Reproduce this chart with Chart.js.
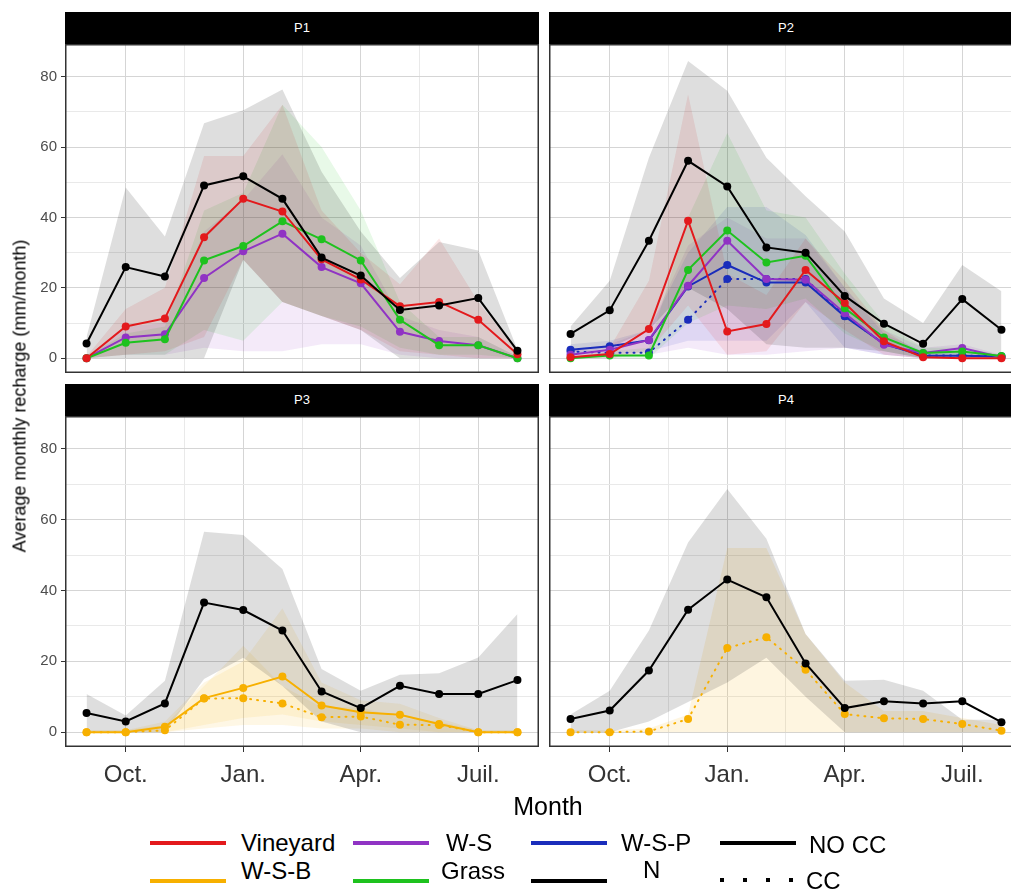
<!DOCTYPE html>
<html>
<head>
<meta charset="utf-8">
<script src="https://cdn.jsdelivr.net/npm/chart.js@4.4.1/dist/chart.umd.min.js"></script>
<style>
html,body{margin:0;padding:0;background:#fff;}
body{width:1011px;height:890px;overflow:hidden;position:relative;font-family:"Liberation Sans",Arial,sans-serif;}
canvas{position:absolute;}
.strip{position:absolute;background:#000;color:#fff;font-size:13px;text-align:center;height:32px;line-height:32px;width:474px;}
.lab{position:absolute;white-space:nowrap;color:#000;}
.key{position:absolute;height:4px;width:76px;}
</style>
</head>
<body>
<canvas id="c1" width="539" height="329" style="left:0;top:44px"></canvas>
<canvas id="c2" width="474" height="329" style="left:549px;top:44px"></canvas>
<canvas id="c3" width="539" height="376" style="left:0;top:416px"></canvas>
<canvas id="c4" width="474" height="376" style="left:549px;top:416px"></canvas>
<div id="overlay"></div>
<script>
// ---------- axis / category data ----------
const panelNames = ['P1', 'P2', 'P3', 'P4'];
const months = ['Sept.', 'Oct.', 'Nov.', 'Déc.', 'Jan.', 'Févr.', 'Mars', 'Apr.', 'Mai', 'Juin', 'Juil.', 'Août'];
const xMajorTicks = [1, 4, 7, 10];
const xMajorLabels = ['Oct.', 'Jan.', 'Apr.', 'Juil.'];
const xMinorTicks = [2.5, 5.5, 8.5];
const yMajorTicks = [0, 20, 40, 60, 80];
const yMinorTicks = [10, 30, 50, 70];
const yTitle = 'Average monthly recharge (mm/month)';
const xTitle = 'Month';

// ---------- series values (mm/month), Sept. -> Août ----------
// P1
const p1_N        = [4.2, 25.9, 23.2, 49.1, 51.7, 45.3, 28.6, 23.5, 13.7, 15.0, 17.1, 2.1];
const p1_N_lo     = [0, 0, 0, 0, 28, 16, 12, 8, 0, 0, 0, 0];
const p1_N_hi     = [6, 48.5, 34.6, 66.8, 70.5, 76.4, 53, 36, 22.8, 33, 30.6, 2.4];
const p1_Vin      = [0, 9.0, 11.3, 34.4, 45.3, 41.7, 28.1, 22.4, 14.8, 16.0, 10.9, 1.1];
const p1_Vin_lo   = [0, 1, 2, 6, 28, 16, 12, 8, 2, 1, 0, 0];
const p1_Vin_hi   = [0.5, 14, 20, 57.5, 57.5, 72, 42, 30, 21, 34, 16, 2];
const p1_Grass    = [0, 4.4, 5.4, 27.8, 31.9, 38.9, 33.8, 27.8, 10.9, 3.7, 3.7, 0];
const p1_Grass_lo = [0, 1, 1, 8, 5, 16, 12, 9, 3, 1, 1, 0];
const p1_Grass_hi = [0.5, 7, 9, 42, 47, 72, 60, 42, 16, 6, 6, 0.5];
const p1_WS       = [0, 5.9, 6.8, 22.8, 30.4, 35.4, 25.9, 21.3, 7.5, 4.9, 3.7, 0];
const p1_WS_lo    = [0, 1, 1, 3, 2, 2, 4, 4, 1, 0, 0, 0];
const p1_WS_hi    = [0.5, 9, 10, 36, 45, 58, 40, 32, 12, 8, 6, 0.5];
// P2
const p2_N        = [6.9, 13.6, 33.4, 56.1, 48.8, 31.5, 30.0, 17.7, 9.8, 4.1, 16.8, 8.1];
const p2_N_lo     = [1, 3, 8, 20, 14, 4, 3, 3, 2, 0, 1, 0];
const p2_N_hi     = [9, 22, 57, 84.5, 76, 57, 46, 36, 17, 10, 26.5, 19];
const p2_Vin      = [0.3, 1.2, 8.3, 39.1, 7.6, 9.7, 25.1, 15.7, 4.8, 0.3, 0, 0];
const p2_Vin_lo   = [0, 0, 2, 15, 1, 2, 16, 8, 1, 0, 0, 0];
const p2_Vin_hi   = [1, 3, 22, 75, 24, 18, 34, 22, 8, 1, 0.5, 0.5];
const p2_Grass    = [0, 0.8, 0.8, 25.1, 36.3, 27.2, 29.1, 14.2, 5.9, 1.5, 1.9, 0.6];
const p2_Grass_lo = [0, 0, 0, 10, 15, 14, 17, 7, 2, 0, 0, 0];
const p2_Grass_hi = [0.5, 2, 3, 40, 64, 42, 40, 24, 10, 3, 3, 1];
const p2_WS       = [1.0, 2.4, 5.2, 20.6, 33.4, 22.5, 22.3, 12.8, 3.8, 1.5, 2.9, 0.3];
const p2_WS_lo    = [0, 0, 1, 3, 1, 1, 2, 3, 1, 0, 0, 0];
const p2_WS_hi    = [2, 4, 8, 32, 40, 34, 34, 20, 8, 3, 4, 1];
const p2_WSP      = [2.4, 3.4, 5.1, 20.4, 26.5, 21.5, 21.5, 11.9, 4.1, 0.7, 0.7, 0.5];
const p2_WSP_lo   = [1, 1, 2, 5, 5, 5, 16, 3, 1, 0, 0, 0];
const p2_WSP_hi   = [4, 5, 8, 30, 43, 43, 35, 20, 7, 2, 2, 1];
const p2_WSP_CC   = [1.9, 1.5, 1.6, 10.9, 22.5, 22.5, 22.5, 12.0, 4.1, 0.8, 0.8, 0.5];
// P3
const p3_N        = [5.4, 3.0, 8.1, 36.6, 34.5, 28.7, 11.5, 6.8, 13.1, 10.8, 10.8, 14.7];
const p3_N_lo     = [0, 0, 0, 15, 21, 13, 3, 0, 0, 0, 0, 0];
const p3_N_hi     = [10.8, 4.7, 14.5, 56.6, 55.7, 46.1, 17.8, 11.7, 16.2, 16.6, 21.1, 33.4];
const p3_WSB      = [0, 0, 1.5, 9.6, 12.5, 15.7, 7.5, 5.6, 4.9, 2.3, 0, 0];
const p3_WSB_lo   = [0, 0, 0, 2, 4, 5, 3, 2, 1, 0, 0, 0];
const p3_WSB_hi   = [0.5, 0.5, 3, 14, 20, 35, 14, 9, 8, 4, 0.5, 0.5];
const p3_WSB_CC   = [0, 0, 0.5, 9.5, 9.6, 8.1, 4.2, 4.4, 2.1, 2.0, 0, 0];
const p3_WSB_CC_lo = [0, 0, 0, 1, 2, 2, 1, 1, 0, 0, 0, 0];
const p3_WSB_CC_hi = [0.5, 0.5, 2, 13, 24.4, 13, 7, 7, 4, 3, 0.5, 0.5];
// P4
const p4_N        = [3.7, 6.1, 17.4, 34.6, 43.1, 38.1, 19.4, 6.8, 8.7, 8.1, 8.7, 2.8];
const p4_N_lo     = [0, 0, 3, 8.5, 14, 21, 10, 0, 0, 0, 0, 0];
const p4_N_hi     = [5, 11.7, 28.7, 53.6, 68.7, 54.6, 27.7, 14.5, 14.8, 11.7, 3.5, 3.5];
const p4_WSB_CC   = [0, 0, 0.2, 3.7, 23.8, 26.8, 17.6, 5.1, 3.9, 3.7, 2.3, 0.4];
const p4_WSB_CC_lo = [0, 0, 0, 0, 0, 0, 0, 0, 0, 0, 0, 0];
const p4_WSB_CC_hi = [0.5, 0.5, 1, 5, 52, 52, 27.7, 14, 6, 6, 4, 2];

// ---------- legend ----------
const colourNames  = ['Vineyard', 'W-S-B', 'W-S', 'Grass', 'W-S-P', 'N'];
const colourValues = ['#e3191c', '#f7b000', '#9033c4', '#1ec21e', '#1a2dbb', '#000000'];
const linetypeNames = ['NO CC', 'CC'];
const COL = {};
colourNames.forEach((n, i) => COL[n] = colourValues[i]);

// ---------- styling ----------
const FONT = "'Liberation Sans', Arial, sans-serif";
Chart.defaults.font.family = FONT;
const X_MIN = -0.55, X_MAX = 11.55, Y_MIN = -4.2, Y_MAX = 89.3;
const MAJOR_GRID = '#d5d5d5', MINOR_GRID = '#e9e9e9';

function rgba(hex, a) {
  const v = parseInt(hex.slice(1), 16);
  return `rgba(${(v >> 16) & 255},${(v >> 8) & 255},${v & 255},${a})`;
}
function pts(vals) { return vals.map((v, i) => ({ x: i, y: v })); }
function series(vals, color, dotted) {
  return {
    data: pts(vals), borderColor: color, backgroundColor: color,
    borderWidth: 2, borderDash: dotted ? [1, 6] : [], borderCapStyle: dotted ? 'round' : 'butt',
    pointRadius: 4, pointHoverRadius: 4, pointBorderWidth: 0, pointBackgroundColor: color,
    fill: false, order: 0, tension: 0
  };
}
function band(lo, hi, color, a) {
  return [
    { data: pts(lo), borderWidth: 0, borderColor: 'rgba(0,0,0,0)', pointRadius: 0, fill: false, order: 1 },
    { data: pts(hi), borderWidth: 0, borderColor: 'rgba(0,0,0,0)', pointRadius: 0, fill: '-1',
      backgroundColor: rgba(color, a), order: 1 }
  ];
}

const panelBorder = {
  id: 'panelBorder',
  afterDraw(chart) {
    const { ctx, chartArea: a } = chart;
    ctx.save();
    ctx.strokeStyle = '#333';
    ctx.lineWidth = 1.5;
    ctx.strokeRect(a.left + 0.75, a.top + 0.75, a.right - a.left - 1.5, a.bottom - a.top - 1.5);
    ctx.restore();
  }
};

function zeroPad(s) { s.paddingTop = 0; s.paddingBottom = 0; s.paddingLeft = 0; s.paddingRight = 0; }

function makeChart(id, datasets, showY, showX) {
  const xTicks = xMajorTicks.concat(xMinorTicks).sort((a, b) => a - b);
  const yTicks = yMajorTicks.concat(yMinorTicks).sort((a, b) => a - b);
  const isMX = v => xMajorTicks.includes(v);
  const isMY = v => yMajorTicks.includes(v);
  return new Chart(document.getElementById(id), {
    type: 'line',
    data: { datasets },
    options: {
      responsive: false, animation: false, events: [],
      layout: { padding: 0, autoPadding: false },
      plugins: { legend: { display: false }, tooltip: { enabled: false },
                 filler: { propagate: false, drawTime: 'beforeDatasetsDraw' } },
      scales: {
        x: {
          type: 'linear', min: X_MIN, max: X_MAX,
          afterBuildTicks(s) { s.ticks = xTicks.map(v => ({ value: v })); },
          afterFit(s) { s.height = showX ? 45 : 0; zeroPad(s); },
          ticks: { display: showX, autoSkip: false, maxRotation: 0, minRotation: 0, color: '#333',
                   font: { size: 24, family: FONT }, padding: 9,
                   callback(v) { const i = xMajorTicks.indexOf(v); return i < 0 ? '' : xMajorLabels[i]; } },
          grid: { color: c => (c.tick && isMX(c.tick.value)) ? MAJOR_GRID : MINOR_GRID, lineWidth: 1,
                  drawTicks: showX, tickLength: 5,
                  tickColor: c => (c.tick && isMX(c.tick.value)) ? '#333' : 'rgba(0,0,0,0)' },
          border: { display: false }
        },
        y: {
          type: 'linear', min: Y_MIN, max: Y_MAX,
          afterBuildTicks(s) { s.ticks = yTicks.map(v => ({ value: v })); },
          afterFit(s) { s.width = showY ? 65 : 0; zeroPad(s); },
          ticks: { display: showY, autoSkip: false, color: '#4d4d4d', font: { size: 15, family: FONT }, padding: 4,
                   callback(v) { return isMY(v) ? String(v) : ''; } },
          grid: { color: c => (c.tick && isMY(c.tick.value)) ? MAJOR_GRID : MINOR_GRID, lineWidth: 1,
                  drawTicks: showY, tickLength: 4,
                  tickColor: c => (c.tick && isMY(c.tick.value)) ? '#333' : 'rgba(0,0,0,0)' },
          border: { display: false }
        }
      }
    },
    plugins: [panelBorder]
  });
}

const GA = 0.13, CA = 0.1;
makeChart('c1', [
  series(p1_N, COL['N']), series(p1_Vin, COL['Vineyard']), series(p1_Grass, COL['Grass']), series(p1_WS, COL['W-S']),
  ...band(p1_N_lo, p1_N_hi, '#000000', GA), ...band(p1_Vin_lo, p1_Vin_hi, COL['Vineyard'], CA),
  ...band(p1_Grass_lo, p1_Grass_hi, COL['Grass'], CA), ...band(p1_WS_lo, p1_WS_hi, COL['W-S'], CA)
], true, false);

makeChart('c2', [
  series(p2_N, COL['N']), series(p2_Vin, COL['Vineyard']), series(p2_Grass, COL['Grass']), series(p2_WS, COL['W-S']),
  series(p2_WSP, COL['W-S-P']), series(p2_WSP_CC, COL['W-S-P'], true),
  ...band(p2_N_lo, p2_N_hi, '#000000', GA), ...band(p2_Vin_lo, p2_Vin_hi, COL['Vineyard'], CA),
  ...band(p2_Grass_lo, p2_Grass_hi, COL['Grass'], CA), ...band(p2_WS_lo, p2_WS_hi, COL['W-S'], CA),
  ...band(p2_WSP_lo, p2_WSP_hi, COL['W-S-P'], CA)
], false, false);

makeChart('c3', [
  series(p3_N, COL['N']), series(p3_WSB, COL['W-S-B']), series(p3_WSB_CC, COL['W-S-B'], true),
  ...band(p3_N_lo, p3_N_hi, '#000000', GA), ...band(p3_WSB_lo, p3_WSB_hi, COL['W-S-B'], CA),
  ...band(p3_WSB_CC_lo, p3_WSB_CC_hi, COL['W-S-B'], CA)
], true, true);

makeChart('c4', [
  series(p4_N, COL['N']), series(p4_WSB_CC, COL['W-S-B'], true),
  ...band(p4_N_lo, p4_N_hi, '#000000', GA), ...band(p4_WSB_CC_lo, p4_WSB_CC_hi, COL['W-S-B'], 0.12)
], false, true);

// ---------- HTML text: strips, titles, legend ----------
const ov = document.getElementById('overlay');
function add(html, style, cls) {
  const d = document.createElement('div');
  d.className = cls || 'lab';
  d.setAttribute('style', style);
  d.innerHTML = html;
  ov.appendChild(d);
  return d;
}
const stripPos = [[65, 12], [549, 12], [65, 384], [549, 384]];
panelNames.forEach((p, i) => add(p, `left:${stripPos[i][0]}px;top:${stripPos[i][1]}px`, 'strip'));
add(yTitle, 'left:20px;top:396px;font-size:18px;transform:translate(-50%,-50%) rotate(-90deg);');
add(xTitle, 'left:548px;top:806px;font-size:25px;transform:translate(-50%,-50%);');

// legend layout: [keyLeft, keyY, textLeft, textY, label, colour, dotted]
const legendItems = [
  [150, 843, 241, 843, colourNames[0], COL['Vineyard'], false],
  [353, 843, 446, 843, colourNames[2], COL['W-S'], false],
  [531, 843, 621, 843, colourNames[4], COL['W-S-P'], false],
  [720, 843, 809, 845, linetypeNames[0], '#000', false],
  [150, 881, 241, 871, colourNames[1], COL['W-S-B'], false],
  [353, 881, 441, 871, colourNames[3], COL['Grass'], false],
  [531, 881, 643, 870, colourNames[5], COL['N'], false],
  [720, 880, 806, 881, linetypeNames[1], '#000', true]
];
legendItems.forEach(([kx, ky, tx, ty, label, col, dotted]) => {
  const bg = dotted ? `repeating-linear-gradient(90deg, ${col} 0 4px, transparent 4px 23px)` : col;
  add('', `left:${kx}px;top:${ky - 2}px;background:${bg};`, 'key');
  add(label, `left:${tx}px;top:${ty}px;font-size:24px;transform:translateY(-50%);`);
});
</script>
</body>
</html>
